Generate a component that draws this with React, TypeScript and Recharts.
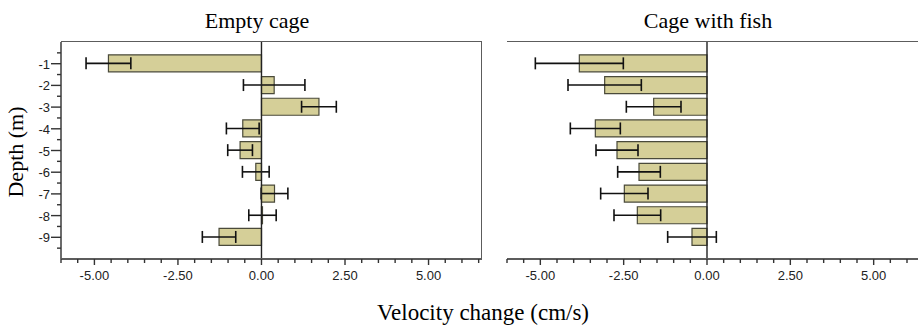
import { Bar, BarChart, ErrorBar, ReferenceLine, XAxis, YAxis } from 'recharts'

const depths = ['-1', '-2', '-3', '-4', '-5', '-6', '-7', '-8', '-9']
const emptyMean = [-4.58, 0.38, 1.72, -0.56, -0.64, -0.17, 0.39, 0.03, -1.27]
const emptyErr = [0.67, 0.92, 0.52, 0.49, 0.37, 0.4, 0.4, 0.41, 0.5]
const fishMean = [-3.83, -3.07, -1.6, -3.35, -2.7, -2.04, -2.48, -2.09, -0.45]
const fishErr = [1.32, 1.1, 0.82, 0.75, 0.63, 0.64, 0.71, 0.7, 0.73]

const xTicks = [
  -6, -5.5, -5, -4.5, -4, -3.5, -3, -2.5, -2, -1.5, -1, -0.5, 0, 0.5, 1, 1.5,
  2, 2.5, 3, 3.5, 4, 4.5, 5, 5.5, 6, 6.5,
]
const majorTicks = [-5, -2.5, 0, 2.5, 5]

const plotTop = 42
const plotH = 217
const halfBand = plotH / 20
const boxColor = '#5c5c5c'
const barFill = '#d5cf98'
const tickFont = '"Liberation Sans", Arial, sans-serif'
const serif = '"Liberation Serif", "Times New Roman", serif'

const emptyData = depths.map((d, i) => ({ depth: d, mean: emptyMean[i], err: emptyErr[i] }))
const fishData = depths.map((d, i) => ({ depth: d, mean: fishMean[i], err: fishErr[i] }))

function XTick(props: any) {
  const { x, y, payload } = props
  const major = majorTicks.includes(payload.value)
  return (
    <g>
      <line x1={x} x2={x} y1={y} y2={y + (major ? 6 : 4)} stroke='#333' strokeWidth={1.4} />
      {major && (
        <text x={x} y={y + 21} textAnchor='middle' fontSize={13} fontFamily={tickFont} fill='#222'>
          {payload.value.toFixed(2)}
        </text>
      )}
    </g>
  )
}

function YTick(props: any) {
  const { x, y, payload, index } = props
  return (
    <g>
      <line x1={x - 10} x2={x} y1={y} y2={y} stroke='#333' strokeWidth={1.4} />
      <line x1={x - 4} x2={x} y1={y - halfBand} y2={y - halfBand} stroke='#333' strokeWidth={1.4} />
      {index === depths.length - 1 && (
        <line x1={x - 4} x2={x} y1={y + halfBand} y2={y + halfBand} stroke='#333' strokeWidth={1.4} />
      )}
      <text x={x - 11} y={y + 5} textAnchor='end' fontSize={13} fontFamily={tickFont} fill='#222'>
        {payload.value}
      </text>
    </g>
  )
}

function Panel({ data, width, marginLeft, marginRight, yWidth, showTicks }: any) {
  return (
    <BarChart
      width={width}
      height={300}
      data={data}
      layout='vertical'
      margin={{ top: plotTop, right: marginRight, bottom: 11, left: marginLeft }}
    >
      <XAxis
        type='number'
        domain={[-6, 6.6]}
        ticks={xTicks}
        interval={0}
        height={30}
        tickSize={0}
        tickMargin={0}
        tickLine={false}
        tick={<XTick />}
        axisLine={{ stroke: boxColor, strokeWidth: 1.8 }}
        allowDataOverflow
      />
      <YAxis
        type='category'
        dataKey='depth'
        width={yWidth}
        padding={{ top: halfBand, bottom: halfBand }}
        tickSize={0}
        tickMargin={0}
        tickLine={false}
        interval={0}
        tick={showTicks ? <YTick /> : false}
        axisLine={{ stroke: boxColor, strokeWidth: 1.8 }}
      />
      <Bar
        dataKey='mean'
        fill={barFill}
        stroke='#4a4a3a'
        strokeWidth={1.2}
        barSize={17}
        isAnimationActive={false}
      >
        <ErrorBar dataKey='err' direction='x' width={6} stroke='#111' strokeWidth={1.6} />
      </Bar>
      <ReferenceLine x={0} stroke='#222' strokeWidth={1.4} />
    </BarChart>
  )
}

const titleStyle = {
  position: 'absolute' as const,
  width: 200,
  top: 10,
  textAlign: 'center' as const,
  fontSize: 22,
  lineHeight: 1,
}

export default function App() {
  return (
    <div
      style={{
        position: 'absolute',
        left: 0,
        top: 0,
        width: 918,
        height: 327,
        overflow: 'hidden',
        background: '#fff',
        fontFamily: serif,
      }}
    >
      <div style={{ position: 'absolute', left: 0, top: 0 }}>
        <Panel data={emptyData} width={490} marginLeft={0} marginRight={8} yWidth={61} showTicks />
      </div>
      <div style={{ position: 'absolute', left: 460, top: 0 }}>
        <Panel data={fishData} width={470} marginLeft={47} marginRight={3} yWidth={0} showTicks={false} />
      </div>
      {/* top / right edges of the plot boxes */}
      <div
        style={{
          position: 'absolute',
          left: 61,
          top: plotTop - 1,
          width: 420,
          height: plotH,
          borderTop: `1.8px solid ${boxColor}`,
          borderRight: `1.8px solid ${boxColor}`,
          pointerEvents: 'none',
        }}
      />
      <div
        style={{
          position: 'absolute',
          left: 507,
          top: plotTop - 1,
          width: 420,
          height: plotH,
          borderTop: `1.8px solid ${boxColor}`,
          pointerEvents: 'none',
        }}
      />
      <div style={{ ...titleStyle, left: 157 }}>Empty cage</div>
      <div style={{ ...titleStyle, left: 608 }}>Cage with fish</div>
      <div
        style={{
          position: 'absolute',
          left: 16,
          top: 152,
          transform: 'translate(-50%, -50%) rotate(-90deg)',
          whiteSpace: 'nowrap',
          fontSize: 22,
          lineHeight: 1,
        }}
      >
        Depth (m)
      </div>
      <div
        style={{
          position: 'absolute',
          left: 333,
          width: 300,
          top: 301,
          textAlign: 'center',
          fontSize: 23,
          lineHeight: 1,
        }}
      >
        Velocity change (cm/s)
      </div>
    </div>
  )
}
